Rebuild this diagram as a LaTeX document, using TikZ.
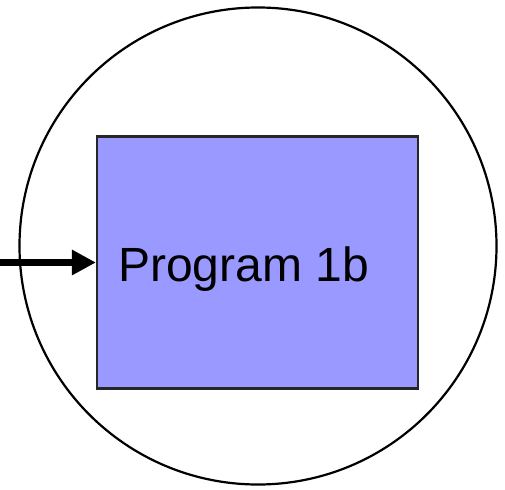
\documentclass[tikz,border=0pt]{standalone}
\usepackage{fontspec}
\setmainfont{Liberation Sans}
\usetikzlibrary{arrows.meta}
\definecolor{progfill}{HTML}{9999FF}
\tikzset{
  progbox/.style={draw=black!85, line width=2.2pt, fill=progfill, minimum width=321pt, minimum height=252pt, inner sep=0pt},
  outer/.style={draw=black, line width=2.2pt, circle, minimum size=477pt, inner sep=0pt},
  inarrow/.style={line width=7.5pt, -{Triangle[length=24pt,width=24pt]}}
}
\begin{document}
\begin{tikzpicture}[x=1pt,y=-1pt]
\useasboundingbox (0,0) rectangle (505,489);
\node[outer] (circ) at (258,246) {};
\node[progbox] (prog) at (257.5,262.5) {};
\node[anchor=base west, inner sep=0pt, font=\fontsize{48}{58}\selectfont] (lbl) at (118,281.7) {Program 1b};
\coordinate (start) at (0,262.5);
\draw[inarrow] (start) -- (prog.west);
\end{tikzpicture}
\end{document}
